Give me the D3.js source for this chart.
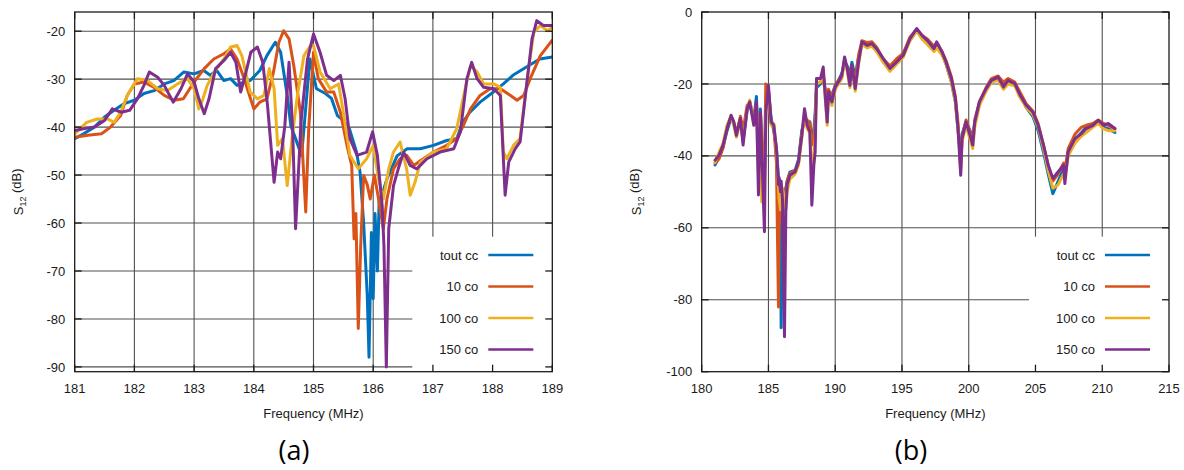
<!DOCTYPE html>
<html><head><meta charset="utf-8">
<script src="https://cdn.jsdelivr.net/npm/d3@7"></script>
<style>
body{margin:0;background:#fff}
svg{display:block}
text{font-family:"Liberation Sans",Arial,Helvetica,sans-serif;fill:#1a1a1a}
</style>
</head><body>
<svg id="chart" width="1184" height="470"></svg>
<script>
// ---------- shared ----------
const seriesNames = ["tout cc", "10 co", "100 co", "150 co"];
const seriesColors = ["#0072BD", "#D95319", "#EDB120", "#7E2F8E"];

// ---------- panel (a) ----------
const xTicksA = [181, 182, 183, 184, 185, 186, 187, 188, 189];
const yTicksA = [-20, -30, -40, -50, -60, -70, -80, -90];

const fA_tout = [181.0,181.15,181.33,181.5,181.66,181.83,182.0,182.16,182.33,182.5,182.66,182.83,183.0,183.16,183.27,183.38,183.5,183.61,183.72,183.83,183.94,184.1,184.22,184.36,184.45,184.56,184.62,184.7,184.8,184.87,184.94,185.05,185.2,185.3,185.4,185.5,185.6,185.72,185.78,185.84,185.9,185.93,185.97,186.0,186.03,186.07,186.1,186.15,186.23,186.4,186.57,186.79,187.01,187.23,187.4,187.5,187.62,187.79,187.98,188.18,188.34,188.56,188.79,189.0];
const sA_tout = [-42.4,-41.4,-40,-37.9,-36.5,-35.1,-34.4,-33,-32.4,-31,-30.3,-28.5,-28.9,-28.2,-29.2,-28.2,-30.3,-29.9,-31.3,-30.6,-30.3,-28.2,-25.1,-22.3,-24.4,-33.4,-39.7,-42.4,-46,-36,-25.8,-32,-33,-34,-37.6,-38.6,-40.3,-45.2,-49.4,-60,-75,-88,-62,-75.8,-58,-70,-55,-54,-50.8,-46,-44.5,-44.5,-43.8,-42.8,-42.4,-39,-36.9,-34.8,-33,-31,-29.2,-27.5,-25.8,-25.4];

const fA_10 = [181.0,181.22,181.45,181.6,181.77,181.88,182.0,182.16,182.33,182.5,182.66,182.82,183.0,183.17,183.33,183.5,183.61,183.72,183.83,184.0,184.1,184.22,184.33,184.42,184.5,184.59,184.67,184.78,184.84,184.87,184.92,185.0,185.08,185.22,185.34,185.45,185.56,185.64,185.68,185.71,185.75,185.79,185.84,185.9,185.95,186.02,186.09,186.17,186.23,186.34,186.45,186.56,186.68,186.79,187.01,187.23,187.4,187.51,187.63,187.79,187.96,188.13,188.3,188.41,188.52,188.63,188.8,189.0];
const sA_10 = [-42.1,-41.7,-41.4,-40,-37.6,-33.4,-31,-30.6,-31.7,-33.4,-34.4,-34.1,-30.6,-27.8,-25.8,-24.7,-23.7,-25.8,-29.6,-36.2,-34.8,-34.1,-28.5,-22.3,-19.9,-21.6,-27.2,-36.9,-50.8,-57.7,-40.3,-24.4,-29.9,-32.7,-32.7,-36.9,-43.8,-48,-63.3,-58,-82,-65,-50.1,-52,-55,-50,-55,-61.2,-55,-48.7,-46.6,-45.9,-48,-47,-45.2,-43.8,-42.4,-39.7,-36.2,-33.4,-32,-32,-33.4,-34.4,-33.4,-29.9,-25.1,-21.9];

const fA_100 = [181.0,181.2,181.38,181.55,181.66,181.77,181.88,182.05,182.22,182.39,182.55,182.72,182.89,183.0,183.08,183.14,183.22,183.34,183.5,183.61,183.72,183.8,183.94,184.06,184.17,184.26,184.34,184.4,184.48,184.56,184.64,184.73,184.84,184.95,185.0,185.11,185.28,185.42,185.5,185.61,185.75,185.89,186.0,186.09,186.17,186.26,186.34,186.45,186.56,186.62,186.7,186.79,187.01,187.23,187.4,187.54,187.63,187.74,187.85,188.02,188.13,188.18,188.24,188.35,188.46,188.58,188.69,188.8,188.92,189.0];
const sA_100 = [-41.4,-39,-38.3,-38.3,-39,-36.9,-33.4,-29.9,-30.3,-32,-32.4,-31,-29.9,-32,-36.2,-34.4,-31.3,-28.5,-25.8,-23.3,-23,-25.1,-32.7,-34.1,-33.4,-27.8,-32,-43.8,-42.4,-52.2,-42.4,-33.4,-25.1,-23,-23,-28.5,-32,-31,-36.9,-45.9,-48.7,-46.6,-43.8,-50.8,-55,-48.7,-45.2,-43.1,-48.7,-54.2,-51.5,-47.3,-45.2,-44.5,-40.3,-32,-27.2,-28.5,-31,-31,-31.7,-45.2,-46.6,-43.8,-42.4,-29.9,-20.2,-18.8,-19.9,-19.2];

const fA_150 = [181.0,181.17,181.33,181.5,181.63,181.78,181.92,182.05,182.16,182.25,182.39,182.5,182.65,182.78,182.89,183.0,183.08,183.17,183.25,183.36,183.5,183.61,183.7,183.78,183.87,183.95,184.06,184.15,184.23,184.34,184.4,184.45,184.52,184.59,184.65,184.7,184.79,184.9,185.0,185.11,185.22,185.34,185.45,185.53,185.61,185.73,185.89,185.99,186.07,186.15,186.18,186.22,186.26,186.34,186.42,186.51,186.62,186.73,186.9,187.12,187.35,187.46,187.57,187.65,187.74,187.85,188.02,188.13,188.21,188.27,188.38,188.46,188.55,188.66,188.74,188.85,189.0];
const sA_150 = [-40.7,-40.3,-40,-38.6,-36.2,-36.9,-36.5,-34.1,-31.3,-28.5,-29.6,-31.3,-34.8,-32,-28.9,-30.6,-34.1,-37.2,-34.1,-27.8,-26.1,-24.4,-26.5,-32.7,-28.5,-24.4,-23.3,-26.5,-35.5,-51.5,-45.2,-46.6,-39.7,-26.5,-40.3,-61.2,-39,-25.8,-20.6,-24.4,-29.2,-30.3,-29.2,-34.1,-42.4,-45.9,-45.2,-41,-45.9,-56.3,-64.7,-90,-61.2,-52.2,-48.7,-45.2,-48,-48.7,-46.6,-45.2,-44.5,-41,-29.9,-26.5,-29.9,-31.7,-32,-33.4,-54.2,-47.3,-44.5,-43.1,-33.4,-21.6,-17.8,-18.8,-18.8];

// ---------- panel (b) ----------
const xTicksB = [180, 185, 190, 195, 200, 205, 210, 215];
const yTicksB = [0, -20, -40, -60, -80, -100];

const fB = [181.0,181.3,181.6,181.9,182.2,182.4,182.6,182.9,183.1,183.4,183.6,183.9,184.1,184.25,184.4,184.5,184.7,184.8,185.0,185.2,185.4,185.6,185.75,185.8,185.9,185.95,186.05,186.2,186.3,186.4,186.6,187.0,187.25,187.5,187.7,187.9,188.1,188.25,188.4,188.5,188.6,188.9,189.1,189.25,189.4,189.5,189.75,190.0,190.25,190.5,190.7,190.9,191.1,191.25,191.5,191.75,192.0,192.4,192.75,193.1,193.6,194.1,194.6,195.1,195.6,196.1,196.5,196.9,197.4,197.6,198.0,198.3,198.7,199.0,199.2,199.4,199.5,199.8,200.1,200.3,200.45,200.8,201.3,201.7,202.2,202.6,202.95,203.45,203.8,204.3,204.8,205.2,205.6,205.95,206.3,206.7,207.1,207.2,207.45,207.95,208.45,208.8,209.3,209.7,210.1,210.45,210.95];
const sB_tout = [-42.5,-40.5,-37.5,-33,-29.5,-31,-33.5,-30,-35.5,-27.5,-25.5,-30,-23.5,-40,-27,-36,-45,-27,-22,-29.5,-33,-38,-46,-47,-60,-87.8,-58,-50,-49,-47,-44.5,-44,-41,-33,-30,-31,-30.5,-35,-33,-28,-21,-20,-18,-22,-26,-22,-23,-20.5,-19,-17,-14,-15,-17.5,-14,-18,-12.5,-8.8,-8.6,-8.6,-10,-13.5,-15.5,-13.5,-11.5,-7.8,-5.2,-6.8,-8.5,-10,-9,-11.5,-14.5,-19.5,-25,-33,-40,-34,-30.5,-33,-35,-31,-25.5,-21.5,-19,-18.5,-20,-19,-20,-22.5,-26.5,-29,-33,-39,-45,-50.5,-47,-43.5,-44,-39.5,-35.5,-33.5,-32,-31.5,-30.5,-32,-32.5,-33.5];
const sB_10 = [-42,-40.8,-37.8,-32,-29,-30.5,-33.8,-29,-33,-26,-25,-29.5,-25.5,-35,-28.5,-37,-44,-20,-22,-31,-32,-42,-82,-60,-50,-52,-50,-52,-50,-47,-45,-44,-42,-33.5,-29.5,-30,-31,-37,-35,-30,-20,-19.5,-17.5,-21.5,-27,-21.5,-24,-20.5,-19,-17.5,-13.5,-15.5,-18.5,-15,-19.5,-12,-8,-8.5,-8.3,-9.8,-13,-15,-13,-11.5,-7,-4.8,-6.5,-7.5,-9.5,-8.5,-11,-13.5,-18,-23.5,-31,-44,-35,-30,-33.5,-36,-30,-25,-21,-18.5,-17.8,-19.5,-18.5,-19.5,-22,-25.5,-27.5,-31,-37,-42.5,-47,-45,-42,-44,-38,-34,-32,-31.5,-31,-30,-31,-31.5,-32.5];
const sB_100 = [-41.8,-39,-36.5,-31.5,-29,-31.5,-34.8,-30.5,-36,-27,-24.5,-31,-26,-45,-28,-52.8,-50,-28,-21.5,-31.5,-31,-39,-49,-52,-55,-50,-49,-52,-55,-50,-46.5,-45,-42.5,-35,-28,-32.5,-33.5,-45,-40,-35,-20,-19.5,-16.5,-24,-31.5,-23,-26,-21.5,-20,-18.5,-13,-16.5,-21,-15.5,-22,-14.5,-9,-10,-9.5,-11,-14,-16.5,-14.5,-12.5,-8,-5.3,-7.5,-9,-11,-10,-12,-14.5,-19.5,-25,-33,-42,-36,-31.5,-35.5,-38,-32,-26,-22,-19.5,-19,-21.5,-20,-20.5,-23.5,-26.5,-28.5,-32,-38,-44,-49,-48,-45,-46,-40,-36.5,-34.5,-33.5,-32,-31,-32.5,-33,-33];
const sB_150 = [-41.2,-39.8,-37,-32.4,-28.7,-30.6,-34.3,-29.6,-37,-26.9,-25,-31.5,-25,-50.9,-27.8,-38.9,-61.1,-27.8,-20.4,-30.6,-31.5,-38,-48,-46,-50,-47,-52,-90.3,-55.6,-48,-45.4,-44.4,-41.7,-34.3,-26.9,-31.5,-33.3,-53.7,-42.6,-38.9,-18.5,-18.5,-15.3,-23.1,-30.6,-22.2,-25,-20.8,-19.4,-17.6,-12.5,-15.7,-20.4,-14.8,-21.3,-13.9,-8.3,-9.3,-8.8,-10.2,-13,-15.7,-13.9,-12,-7.4,-4.6,-6.5,-7.9,-10.2,-8.3,-11.1,-13.9,-18.5,-24,-32.4,-45.4,-35.2,-30.6,-34.3,-37,-30.6,-25,-21.3,-19,-18.1,-20.8,-19,-19.9,-22.7,-25.9,-27.8,-31.5,-37,-42.6,-46.3,-44.4,-42.6,-47.7,-38.9,-35.2,-33.8,-32.4,-31.5,-30.1,-31.5,-31,-32.4];

// ---------- drawing ----------
const svg = d3.select("#chart");

function drawPanel(p) {
  const x = d3.scaleLinear().domain(p.xDomain).range([p.left, p.right]);
  const y = d3.scaleLinear().domain(p.yDomain).range([p.bottom, p.top]);
  const g = svg.append("g");
  const clipId = "clip-" + p.id;
  svg.append("clipPath").attr("id", clipId).append("rect")
    .attr("x", p.left).attr("y", p.top)
    .attr("width", p.right - p.left).attr("height", p.bottom - p.top);

  // grid
  const grid = g.append("g").attr("stroke", "#333").attr("stroke-width", 1.1).attr("opacity", 0.85);
  grid.selectAll("line.gx").data(p.xTicks.filter(t => t !== p.xDomain[0] && t !== p.xDomain[1]))
    .join("line").attr("x1", d => x(d)).attr("x2", d => x(d))
    .attr("y1", p.top).attr("y2", p.bottom);
  grid.selectAll("line.gy").data(p.yTicks.filter(t => y(t) > p.top + 1 && y(t) < p.bottom - 1))
    .join("line").attr("y1", d => y(d)).attr("y2", d => y(d))
    .attr("x1", p.left).attr("x2", p.right);

  // series
  const line = d3.line().x(d => x(d[0])).y(d => y(d[1]));
  const sg = g.append("g").attr("clip-path", `url(#${clipId})`);
  p.series.forEach((s, i) => {
    const pts = s.f.map((f, k) => [f, s.v[k]]);
    sg.append("path").datum(pts).attr("d", line)
      .attr("fill", "none").attr("stroke", seriesColors[i])
      .attr("stroke-width", 3).attr("stroke-linejoin", "round").attr("stroke-linecap", "round");
  });

  // legend box
  const lx0 = p.right - 140, ly0 = p.bottom - 135;
  g.append("rect").attr("x", lx0).attr("y", ly0)
    .attr("width", p.right - lx0).attr("height", p.bottom - ly0).attr("fill", "#fff");
  seriesNames.forEach((n, i) => {
    const yy = 255 + i * 31.5;
    g.append("text").attr("x", p.right - 74).attr("y", yy + 4.5)
      .attr("text-anchor", "end").attr("font-size", 13).text(n);
    g.append("line").attr("x1", p.right - 64).attr("x2", p.right - 19)
      .attr("y1", yy).attr("y2", yy)
      .attr("stroke", seriesColors[i]).attr("stroke-width", 2.6);
  });

  // border
  g.append("rect").attr("x", p.left).attr("y", p.top)
    .attr("width", p.right - p.left).attr("height", p.bottom - p.top)
    .attr("fill", "none").attr("stroke", "#1a1a1a").attr("stroke-width", 1.3);

  // ticks (inward, all sides)
  const tk = g.append("g").attr("stroke", "#1a1a1a").attr("stroke-width", 1.3);
  const tl = 7;
  p.xTicks.forEach(t => {
    tk.append("line").attr("x1", x(t)).attr("x2", x(t)).attr("y1", p.bottom).attr("y2", p.bottom - tl);
    tk.append("line").attr("x1", x(t)).attr("x2", x(t)).attr("y1", p.top).attr("y2", p.top + tl);
  });
  p.yTicks.forEach(t => {
    tk.append("line").attr("y1", y(t)).attr("y2", y(t)).attr("x1", p.left).attr("x2", p.left + tl);
    tk.append("line").attr("y1", y(t)).attr("y2", y(t)).attr("x1", p.right).attr("x2", p.right - tl);
  });

  // tick labels
  g.selectAll("text.xl").data(p.xTicks).join("text")
    .attr("x", d => x(d)).attr("y", p.bottom + 21.5)
    .attr("text-anchor", "middle").attr("font-size", 13).text(d => d);
  g.selectAll("text.yl").data(p.yTicks).join("text")
    .attr("x", p.left - 9.5).attr("y", d => y(d) + 4.6)
    .attr("text-anchor", "end").attr("font-size", 13).text(d => d);

  // axis titles
  g.append("text").attr("x", (p.left + p.right) / 2).attr("y", 417.5)
    .attr("text-anchor", "middle").attr("font-size", 13).text("Frequency (MHz)");
  const yt = g.append("text").attr("transform", `translate(${p.ylabX},${(p.top + p.bottom) / 2}) rotate(-90)`)
    .attr("text-anchor", "middle").attr("font-size", 13).attr("dy", "0.35em");
  yt.append("tspan").text("S");
  yt.append("tspan").attr("font-size", 9).attr("dy", "0.35em").text("12");
  yt.append("tspan").attr("dy", "-0.35em").text(" (dB)");

  // panel label
  g.append("text").attr("x", p.labX).attr("y", 460)
    .attr("text-anchor", "middle").attr("font-size", 27)
    .style("font-family", "'Open Sans','DejaVu Sans',sans-serif").attr("font-weight", 400)
    .style("fill", "#000")
    .text(p.label);
}

drawPanel({
  id: "a", left: 74.7, right: 552.3, top: 12, bottom: 371.7,
  xDomain: [181, 189], yDomain: [-91, -16],
  xTicks: xTicksA, yTicks: yTicksA, ylabX: 18, labX: 294, label: "(a)",
  series: [
    {f: fA_tout, v: sA_tout}, {f: fA_10, v: sA_10},
    {f: fA_100, v: sA_100}, {f: fA_150, v: sA_150}
  ]
});

drawPanel({
  id: "b", left: 701.7, right: 1169, top: 12, bottom: 371.7,
  xDomain: [180, 215], yDomain: [-100, 0],
  xTicks: xTicksB, yTicks: yTicksB, ylabX: 636, labX: 911, label: "(b)",
  series: [
    {f: fB, v: sB_tout}, {f: fB, v: sB_10},
    {f: fB, v: sB_100}, {f: fB, v: sB_150}
  ]
});
</script>
</body></html>
